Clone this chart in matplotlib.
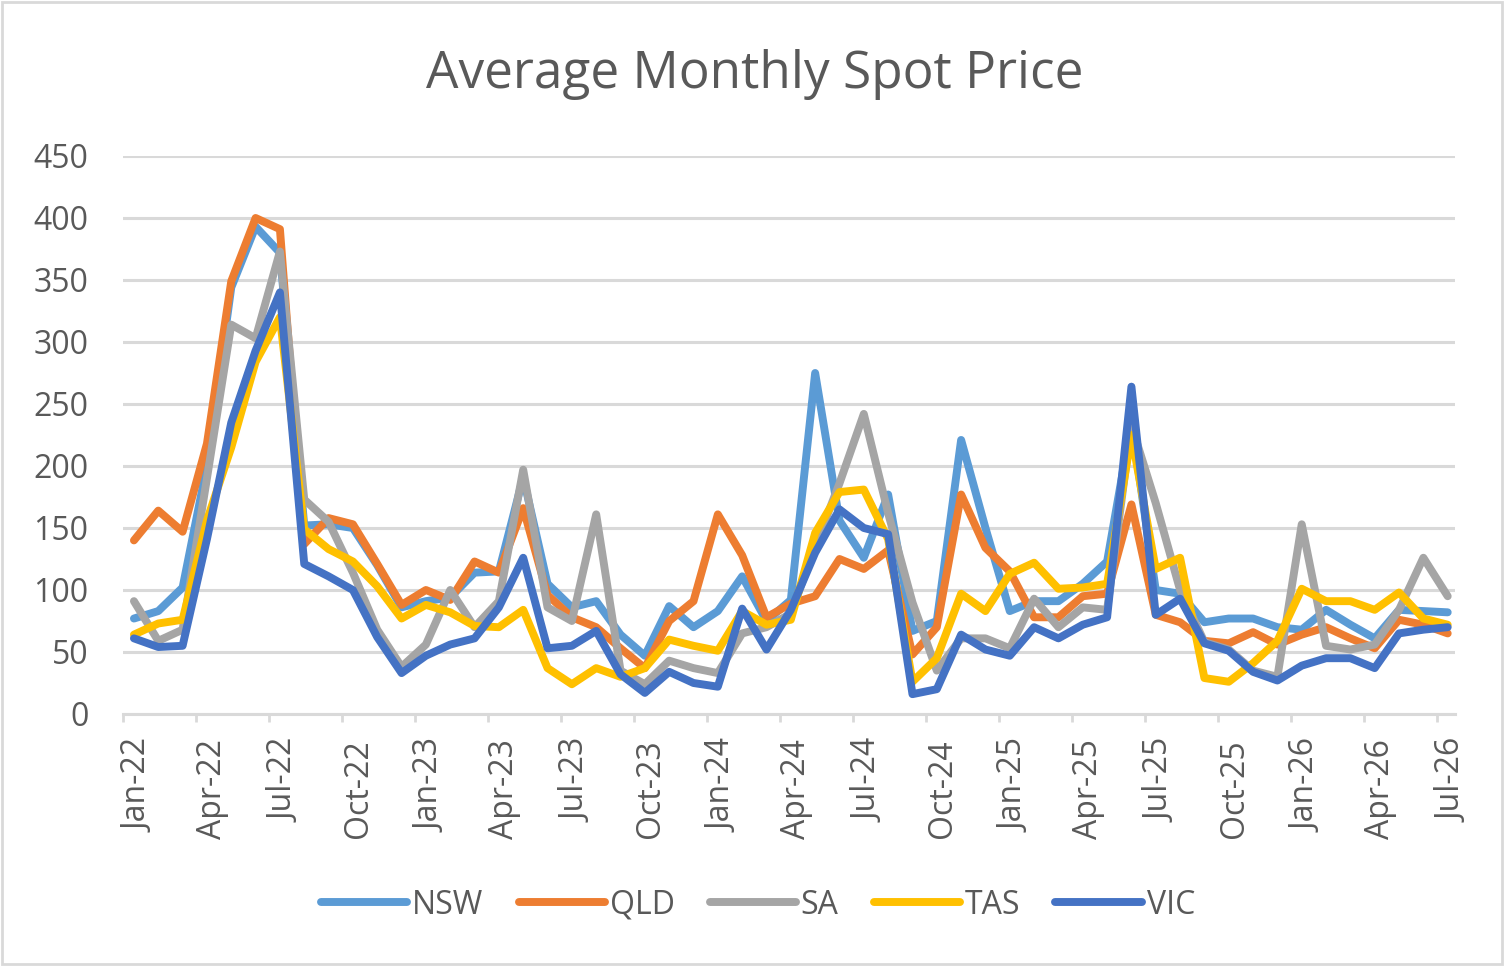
import matplotlib
matplotlib.use('Agg')
import matplotlib.pyplot as plt
from matplotlib.patches import Rectangle

plt.rcParams['font.family'] = ['Open Sans', 'DejaVu Sans']

tick_labels = ['Jan-22', 'Apr-22', 'Jul-22', 'Oct-22', 'Jan-23', 'Apr-23', 'Jul-23',
               'Oct-23', 'Jan-24', 'Apr-24', 'Jul-24', 'Oct-24', 'Jan-25', 'Apr-25',
               'Jul-25', 'Oct-25', 'Jan-26', 'Apr-26', 'Jul-26']

nsw = [77, 83, 102, 200, 344, 393, 372, 152, 153, 150,
       120, 86, 91, 94, 114, 115, 191, 105, 86, 91,
       64, 47, 87, 70, 83, 111, 75, 92, 275, 156,
       126, 177, 67, 75, 221, 150, 83, 91, 91, 105,
       123, 235, 100, 97, 74, 77, 77, 70, 68, 84,
       72, 61, 84, 83, 82]

qld = [140, 164, 147, 218, 349, 400, 391, 137, 158, 153,
       121, 88, 100, 92, 123, 114, 166, 96, 78, 70,
       53, 37, 75, 91, 161, 128, 78, 89, 95, 125,
       117, 132, 48, 70, 177, 134, 115, 78, 78, 95,
       97, 169, 80, 74, 59, 57, 66, 56, 64, 70,
       61, 53, 76, 72, 65]

sa = [91, 59, 68, 190, 314, 303, 373, 173, 155, 114,
      68, 38, 56, 100, 70, 91, 197, 86, 75, 161,
      35, 24, 43, 37, 33, 65, 70, 81, 135, 186,
      242, 162, 90, 35, 61, 61, 53, 93, 70, 86,
      84, 233, 170, 100, 58, 52, 35, 30, 153, 55,
      52, 56, 84, 126, 95]

tas = [64, 73, 76, 156, 215, 284, 320, 149, 133, 123,
       103, 77, 88, 82, 71, 70, 84, 37, 24, 37,
       30, 37, 60, 55, 51, 83, 72, 76, 146, 179,
       181, 141, 26, 45, 97, 83, 113, 122, 101, 102,
       105, 225, 117, 126, 29, 26, 41, 59, 101, 91,
       91, 84, 98, 77, 72]

vic = [61, 54, 55, 141, 235, 293, 340, 121, 111, 100,
       62, 33, 47, 56, 61, 86, 126, 53, 55, 67,
       32, 17, 34, 25, 22, 85, 52, 84, 130, 165,
       150, 145, 16, 20, 64, 52, 47, 70, 61, 72,
       78, 264, 80, 93, 57, 51, 34, 27, 39, 45,
       45, 37, 65, 68, 70]

series = [('NSW', nsw, '#5B9BD5'), ('QLD', qld, '#ED7D31'), ('SA', sa, '#A5A5A5'),
          ('TAS', tas, '#FFC000'), ('VIC', vic, '#4472C4')]

text_color = '#595959'
grid_color = '#D9D9D9'

W, H = 1504, 966
fig = plt.figure(figsize=(W / 100, H / 100), dpi=100)
ax = fig.add_axes([123 / W, 1 - 714 / H, (1455 - 123) / W, (714 - 156) / H])

x = list(range(len(nsw)))
for name, vals, color in series:
    ax.plot(x, vals, color=color, lw=5.7, solid_joinstyle='round',
            solid_capstyle='round', label=name)

ax.set_ylim(0, 450)
ax.set_xlim(-0.45, 54.3)
ax.set_yticks(range(0, 451, 50))
ax.yaxis.grid(True, color=grid_color, lw=2.2)
ax.set_axisbelow(True)
for s in ['left', 'right', 'top']:
    ax.spines[s].set_visible(False)
ax.spines['bottom'].set_color(grid_color)
ax.spines['bottom'].set_linewidth(2.2)
ax.spines['bottom'].set_zorder(0.5)

tick_pos = list(range(0, len(nsw), 3))
ax.set_xticks([p - 0.45 for p in tick_pos])
ax.set_xticklabels([])
ax.set_xticks([p + 0.22 for p in tick_pos], minor=True)
ax.set_xticklabels(tick_labels, minor=True, rotation=90)
ax.tick_params(axis='x', which='major', length=6, width=2, color=grid_color, direction='out')
ax.tick_params(axis='x', which='minor', length=0, pad=18, labelsize=23, labelcolor=text_color)
ax.tick_params(axis='y', length=0, pad=25, labelsize=23, labelcolor=text_color)

fig.text(0.5015, 1 - 75 / H, 'Average Monthly Spot Price', ha='center', va='center',
         fontsize=37, color=text_color)

leg = fig.legend(loc='center', bbox_to_anchor=(758 / W, 1 - 905 / H), ncol=5, frameon=False,
                 fontsize=23, handlelength=2.7, handletextpad=0.15, columnspacing=1.1)
for t in leg.get_texts():
    t.set_color(text_color)

fig.patches.append(Rectangle((0.0015, 0.002), 0.997, 0.996, transform=fig.transFigure,
                             fill=False, edgecolor=grid_color, lw=2))

fig.savefig('out.png', dpi=100)
